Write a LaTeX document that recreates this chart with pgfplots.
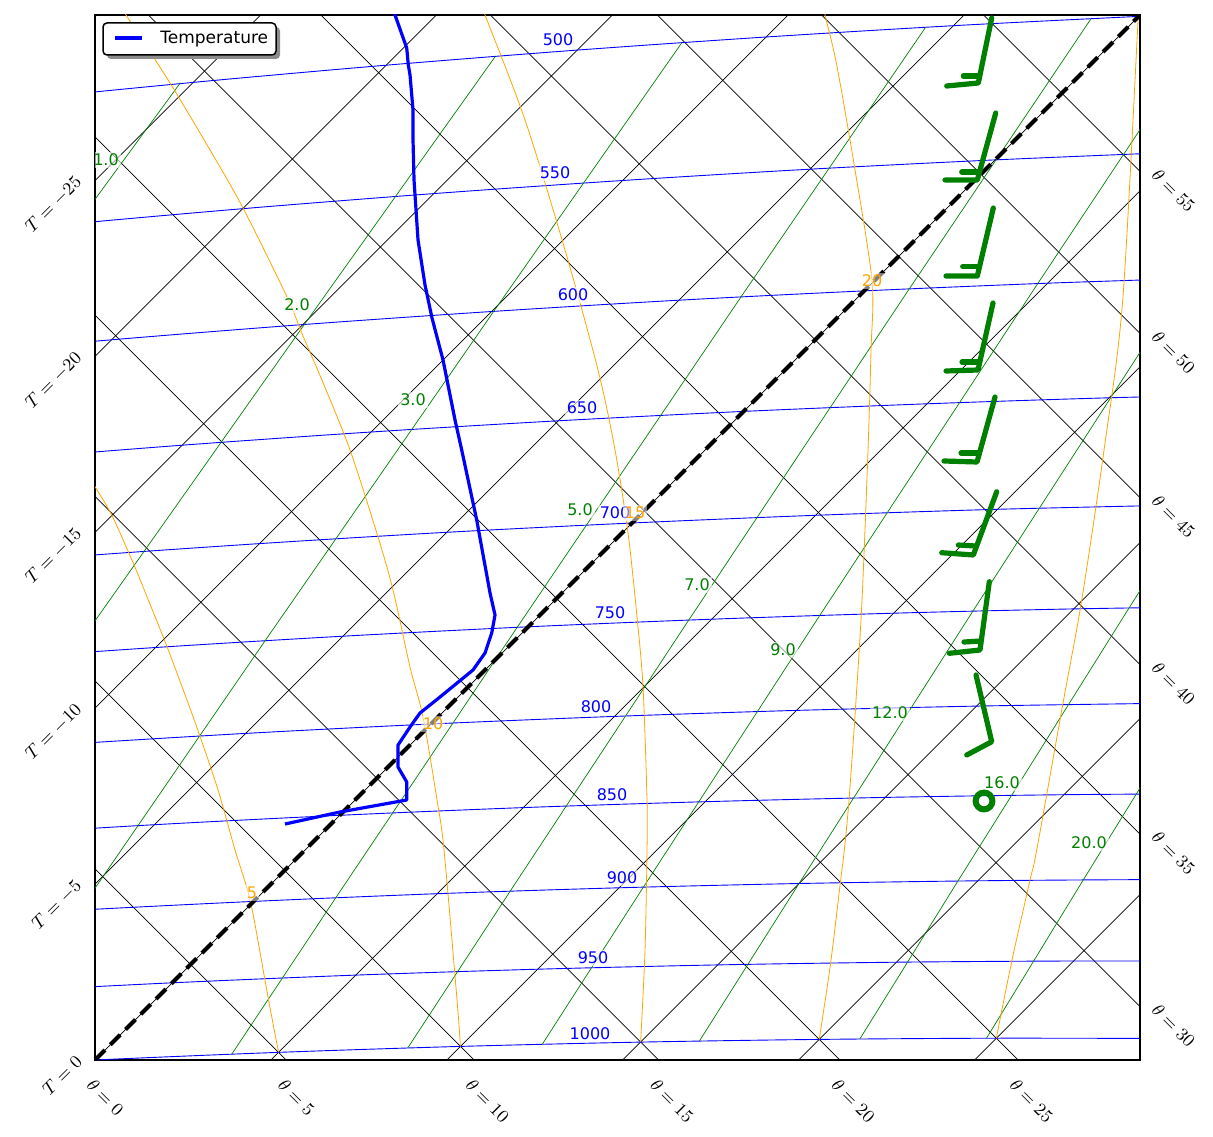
\documentclass[border=0pt]{standalone}
\usepackage{pgfplots}
\pgfplotsset{compat=1.18}
\usepackage{fontspec}
\setmainfont{DejaVu Sans}
\definecolor{mplorange}{HTML}{FFA500}
\definecolor{mplgreen}{HTML}{008000}
\definecolor{mplblue}{HTML}{0000FF}
\newcommand{\cfont}{\fontsize{8}{9}\selectfont}
\newcommand{\mfont}{\fontsize{9}{10}\selectfont}
\tikzset{
  iso/.style={black, line width=0.35pt},
  bar/.style={mplblue, line width=0.45pt, smooth},
  mix/.style={mplgreen, line width=0.35pt},
  wet/.style={mplorange, line width=0.4pt, smooth},
  barb/.style={mplgreen, line width=2.6pt, line cap=round, line join=round},
  lbl/.style={fill=white, fill opacity=0.6, text opacity=1, inner sep=1pt, font=\cfont},
  tl/.style={rotate=45, anchor=east, inner sep=0pt, font=\mfont},
  thl/.style={rotate=-45, anchor=west, inner sep=0pt, font=\mfont},
}
\begin{document}
\begin{tikzpicture}
\useasboundingbox (-47.5pt,-38pt) rectangle (559pt,530pt);
\begin{axis}[
  at={(0pt,0pt)}, anchor=south west,
  scale only axis, width=522.5pt, height=522.5pt,
  xmin=0, xmax=1045, ymin=0, ymax=1045,
  xtick=\empty, ytick=\empty,
  axis line style={line width=0.9pt},
]
% isotherms
\addplot[iso] coordinates {(-979.5,-100) (270.5,1150)};
\addplot[iso] coordinates {(-803.6,-100) (446.4,1150)};
\addplot[iso] coordinates {(-627.7,-100) (622.3,1150)};
\addplot[iso] coordinates {(-451.8,-100) (798.2,1150)};
\addplot[iso] coordinates {(-275.9,-100) (974.1,1150)};
\addplot[iso] coordinates {(-100,-100) (1150,1150)};
\addplot[iso] coordinates {(75.9,-100) (1325.9,1150)};
\addplot[iso] coordinates {(251.8,-100) (1501.8,1150)};
\addplot[iso] coordinates {(427.7,-100) (1677.7,1150)};
\addplot[iso] coordinates {(603.6,-100) (1853.6,1150)};
\addplot[iso] coordinates {(779.5,-100) (2029.5,1150)};
% dry adiabats
\addplot[iso] coordinates {(291.2,-100) (-958.8,1150)};
\addplot[iso] coordinates {(479.0,-100) (-771.0,1150)};
\addplot[iso] coordinates {(663.5,-100) (-586.5,1150)};
\addplot[iso] coordinates {(844.8,-100) (-405.2,1150)};
\addplot[iso] coordinates {(1023.1,-100) (-226.9,1150)};
\addplot[iso] coordinates {(1198.3,-100) (-51.7,1150)};
\addplot[iso] coordinates {(1370.8,-100) (120.8,1150)};
\addplot[iso] coordinates {(1540.4,-100) (290.4,1150)};
\addplot[iso] coordinates {(1707.4,-100) (457.4,1150)};
\addplot[iso] coordinates {(1871.7,-100) (621.7,1150)};
\addplot[iso] coordinates {(2033.6,-100) (783.6,1150)};
% isobars
\addplot[bar] coordinates {(-185.3,-9.4) (0,0) (183.55,7.65) (365.4,13.6) (545.6,17.9) (724.2,20.6) (901.3,21.8) (1076.9,21.5)};
\addplot[bar] coordinates {(-108,67.8) (77.2,77.2) (260.8,84.9) (442.6,90.8) (622.8,95.1) (801.4,97.8) (978.5,99.0) (1154.1,98.7)};
\addplot[bar] coordinates {(-213.8,138) (-26.7,149.3) (158.6,158.6) (342.2,166.3) (524.0,172.2) (704.2,176.5) (882.8,179.2) (1059.9,180.4) (1235.5,180.1)};
\addplot[bar] coordinates {(-127.7,224.0) (59.4,235.3) (244.7,244.7) (428.2,252.4) (610.1,258.3) (790.3,262.6) (968.9,265.3) (1146,266.5)};
\addplot[bar] coordinates {(-225.5,302.2) (-36.5,315.3) (150.7,326.6) (336,336) (519.5,343.6) (701.4,349.6) (881.6,353.9) (1060.2,356.6)};
\addplot[bar] coordinates {(-128.4,399.4) (60.7,412.5) (247.9,423.8) (433.2,433.2) (616.7,440.8) (798.6,446.8) (978.8,451.1) (1157.4,453.8)};
\addplot[bar] coordinates {(-215.5,488.2) (-24.5,503.3) (164.6,516.4) (351.7,527.7) (537,537) (720.6,544.7) (902.5,550.7) (1082.7,554.9)};
\addplot[bar] coordinates {(-103.9,599.7) (87.1,614.8) (276.2,628.0) (463.3,639.2) (648.6,648.6) (832.2,656.2) (1014.0,662.2) (1194.2,666.5)};
\addplot[bar] coordinates {(-176.5,703.0) (16.6,720.2) (207.7,735.4) (396.7,748.5) (583.8,759.8) (769.1,769.1) (952.7,776.8) (1134.5,782.8)};
\addplot[bar] coordinates {(-240.7,814.7) (-45.5,834.1) (147.6,851.3) (338.7,866.4) (527.7,879.5) (714.9,890.8) (900.1,900.1) (1083.7,907.8)};
\addplot[bar] coordinates {(-294.7,936.7) (-97.2,958.2) (98.1,977.6) (291.2,994.8) (482.2,1009.9) (671.2,1023.0) (858.4,1034.3) (1043.6,1043.6) (1117.3,1046.9)};
% mixing ratio lines
\addplot[mix] coordinates {(-651.6,-40.0) (-540.7,114.8) (-347.8,382.6) (-110.1,710.0) (-17.0,837.5) (85.4,977.2)};
\addplot[mix] coordinates {(-319.2,-17.3) (-211.0,138.2) (-22.8,406.9) (209.3,735.5) (400.3,1003.6)};
\addplot[mix] coordinates {(-121.6,-6.0) (-15.1,149.9) (170.1,419.3) (398.7,748.6) (586.9,1017.4)};
\addplot[mix] coordinates {(136.75,5.85) (240.8,162.3) (422.1,432.6) (646.0,763.1) (830.5,1032.6)};
\addplot[mix] coordinates {(312.75,12.05) (415.2,168.9) (593.7,439.9) (814.3,771.2) (996.1,1041.4)};
\addplot[mix] coordinates {(447.25,15.75) (548.4,172.9) (724.7,444.5) (942.7,776.4) (1122.6,1047.1)};
\addplot[mix] coordinates {(604.35,18.95) (704.0,176.5) (877.8,448.8) (1092.7,781.5)};
\addplot[mix] coordinates {(764.8,21.0) (862.9,179.0) (1034.0,452.0) (1245.8,785.6)};
\addplot[mix] coordinates {(891.45,21.75) (988.3,180.2) (1157.3,453.8)};
% wet adiabats
\addplot[wet] coordinates {(-5,582) (0,573.3) (16.7,545) (38.3,496.7) (53.3,460) (73.3,410) (101,335) (123,270) (140,210) (155.7,157) (173,63) (183.55,7.65)};
\addplot[wet] coordinates {(29,1050) (31,1045) (75,977) (115,910) (148,852) (192,763) (208.3,723.3) (228.3,676.7) (255,610) (283,523) (298,470) (315,393) (328,343) (342,260) (349,210) (362,60) (365.4,13.6)};
\addplot[wet] coordinates {(388,1050) (390,1045) (430,940) (470,810) (503,690) (520,610) (533,527) (542,443) (548,373) (552,260) (552,210) (550,110) (545.6,17.9)};
\addplot[wet] coordinates {(729,1050) (730,1045) (741.7,995) (760,890) (777,779) (776,710) (773,610) (767,460) (761,360) (754,260) (749.3,210) (745.4,178) (735.6,97) (724.2,20.6)};
\addplot[wet] coordinates {(1043.5,1050) (1043.3,1045) (1027.7,760) (1009,610) (986.7,460) (968,357) (941.7,210) (935,180) (917,100) (901.3,21.8)};
% dashed 0 isotherm
\addplot[black, line width=2.1pt, dash pattern=on 7pt off 3.8pt] coordinates {(0,0) (1045,1045)};
% labels
\node[lbl, text=mplblue] at (axis cs:495,26) {1000};
\node[lbl, text=mplblue] at (axis cs:498,102) {950};
\node[lbl, text=mplblue] at (axis cs:527,182) {900};
\node[lbl, text=mplblue] at (axis cs:517,265) {850};
\node[lbl, text=mplblue] at (axis cs:501,353) {800};
\node[lbl, text=mplblue] at (axis cs:515,447) {750};
\node[lbl, text=mplblue] at (axis cs:520,547) {700};
\node[lbl, text=mplblue] at (axis cs:487,652) {650};
\node[lbl, text=mplblue] at (axis cs:478,765) {600};
\node[lbl, text=mplblue] at (axis cs:460,887) {550};
\node[lbl, text=mplblue] at (axis cs:463,1020) {500};
\node[lbl, text=mplgreen] at (axis cs:11,900) {1.0};
\node[lbl, text=mplgreen] at (axis cs:202,755) {2.0};
\node[lbl, text=mplgreen] at (axis cs:318,660) {3.0};
\node[lbl, text=mplgreen] at (axis cs:485,550) {5.0};
\node[lbl, text=mplgreen] at (axis cs:602,475) {7.0};
\node[lbl, text=mplgreen] at (axis cs:688,410) {9.0};
\node[lbl, text=mplgreen] at (axis cs:795,347) {12.0};
\node[lbl, text=mplgreen] at (axis cs:907,277) {16.0};
\node[lbl, text=mplgreen] at (axis cs:994,217) {20.0};
\node[lbl, text=mplorange, fill opacity=0.5] at (axis cs:157,167) {5};
\node[lbl, text=mplorange, fill opacity=0.5] at (axis cs:338,336) {10};
\node[lbl, text=mplorange, fill opacity=0.5] at (axis cs:540,547) {15};
\node[lbl, text=mplorange, fill opacity=0.5] at (axis cs:777,779) {20};
% temperature profile
\addplot[mplblue, line width=1.6pt, line join=round] coordinates {
(190,236) (245,248) (311.7,260) (311.7,278) (303,293) (303,315) (315,333) (325,347) (345,363) (378,390) (390,407) (396.7,427) (400,445) (395,467) (381.7,540) (366.7,610) (360,640) (348,700) (337,742) (330,775) (323,820) (319,880) (318,920) (318,950) (315,985) (313.3,995) (311.7,1012) (300,1045) (297,1055)};
% wind barbs
\addplot[barb] coordinates {(851.7,974) (883.3,977) (896.7,1042)};
\addplot[barb] coordinates {(868.3,984) (883.5,984)};
\addplot[barb] coordinates {(850,880) (882.3,880) (900.7,947)};
\addplot[barb] coordinates {(866.7,888) (882.5,888)};
\addplot[barb] coordinates {(851,784) (882.3,784) (898.3,852)};
\addplot[barb] coordinates {(867.7,793.3) (884.2,793.3)};
\addplot[barb] coordinates {(851,689) (883,690) (898,757)};
\addplot[barb] coordinates {(867,698) (884,698)};
\addplot[barb] coordinates {(849,599) (882,598) (900,663)};
\addplot[barb] coordinates {(866,607) (883.5,607)};
\addplot[barb] coordinates {(846.7,507.3) (878.3,505) (901.7,568.3)};
\addplot[barb] coordinates {(863.3,515) (880.5,514)};
\addplot[barb] coordinates {(854.3,406.7) (885,410) (894.3,478.3)};
\addplot[barb] coordinates {(869,418) (886,419)};
\addplot[barb] coordinates {(881,385) (896.7,318.3) (871.7,305)};
\addplot[mplgreen, only marks, mark=o, mark size=4.2pt, mark options={line width=3pt}] coordinates {(889,259)};
\end{axis}
% outside labels
\node[tl] at (-8pt,0.75pt) {$T=0$};
\node[tl] at (-8pt,88.7pt) {$T=-5$};
\node[tl] at (-8pt,176.65pt) {$T=-10$};
\node[tl] at (-8pt,264.6pt) {$T=-15$};
\node[tl] at (-8pt,352.55pt) {$T=-20$};
\node[tl] at (-8pt,440.5pt) {$T=-25$};
\node[thl] at (-2.5pt,-11pt) {$\theta=0$};
\node[thl] at (93.1pt,-11pt) {$\theta=5$};
\node[thl] at (187pt,-11pt) {$\theta=10$};
\node[thl] at (279.25pt,-11pt) {$\theta=15$};
\node[thl] at (369.9pt,-11pt) {$\theta=20$};
\node[thl] at (459.05pt,-11pt) {$\theta=25$};
\node[thl] at (530pt,26.65pt) {$\theta=30$};
\node[thl] at (530pt,112.9pt) {$\theta=35$};
\node[thl] at (530pt,197.7pt) {$\theta=40$};
\node[thl] at (530pt,281.2pt) {$\theta=45$};
\node[thl] at (530pt,363.35pt) {$\theta=50$};
\node[thl] at (530pt,444.3pt) {$\theta=55$};
% legend
\fill[black!45, rounded corners=2pt] (6pt,500.5pt) rectangle (92.5pt,516.5pt);
\draw[fill=white, rounded corners=2pt, line width=0.75pt] (4pt,502.5pt) rectangle (90.5pt,518.5pt);
\draw[mplblue, line width=1.6pt] (10pt,511pt) -- (23.5pt,511pt);
\node[anchor=west, inner sep=0pt, font=\fontsize{8.5}{10}\selectfont] at (32.5pt,510.5pt) {Temperature};
\end{tikzpicture}
\end{document}
